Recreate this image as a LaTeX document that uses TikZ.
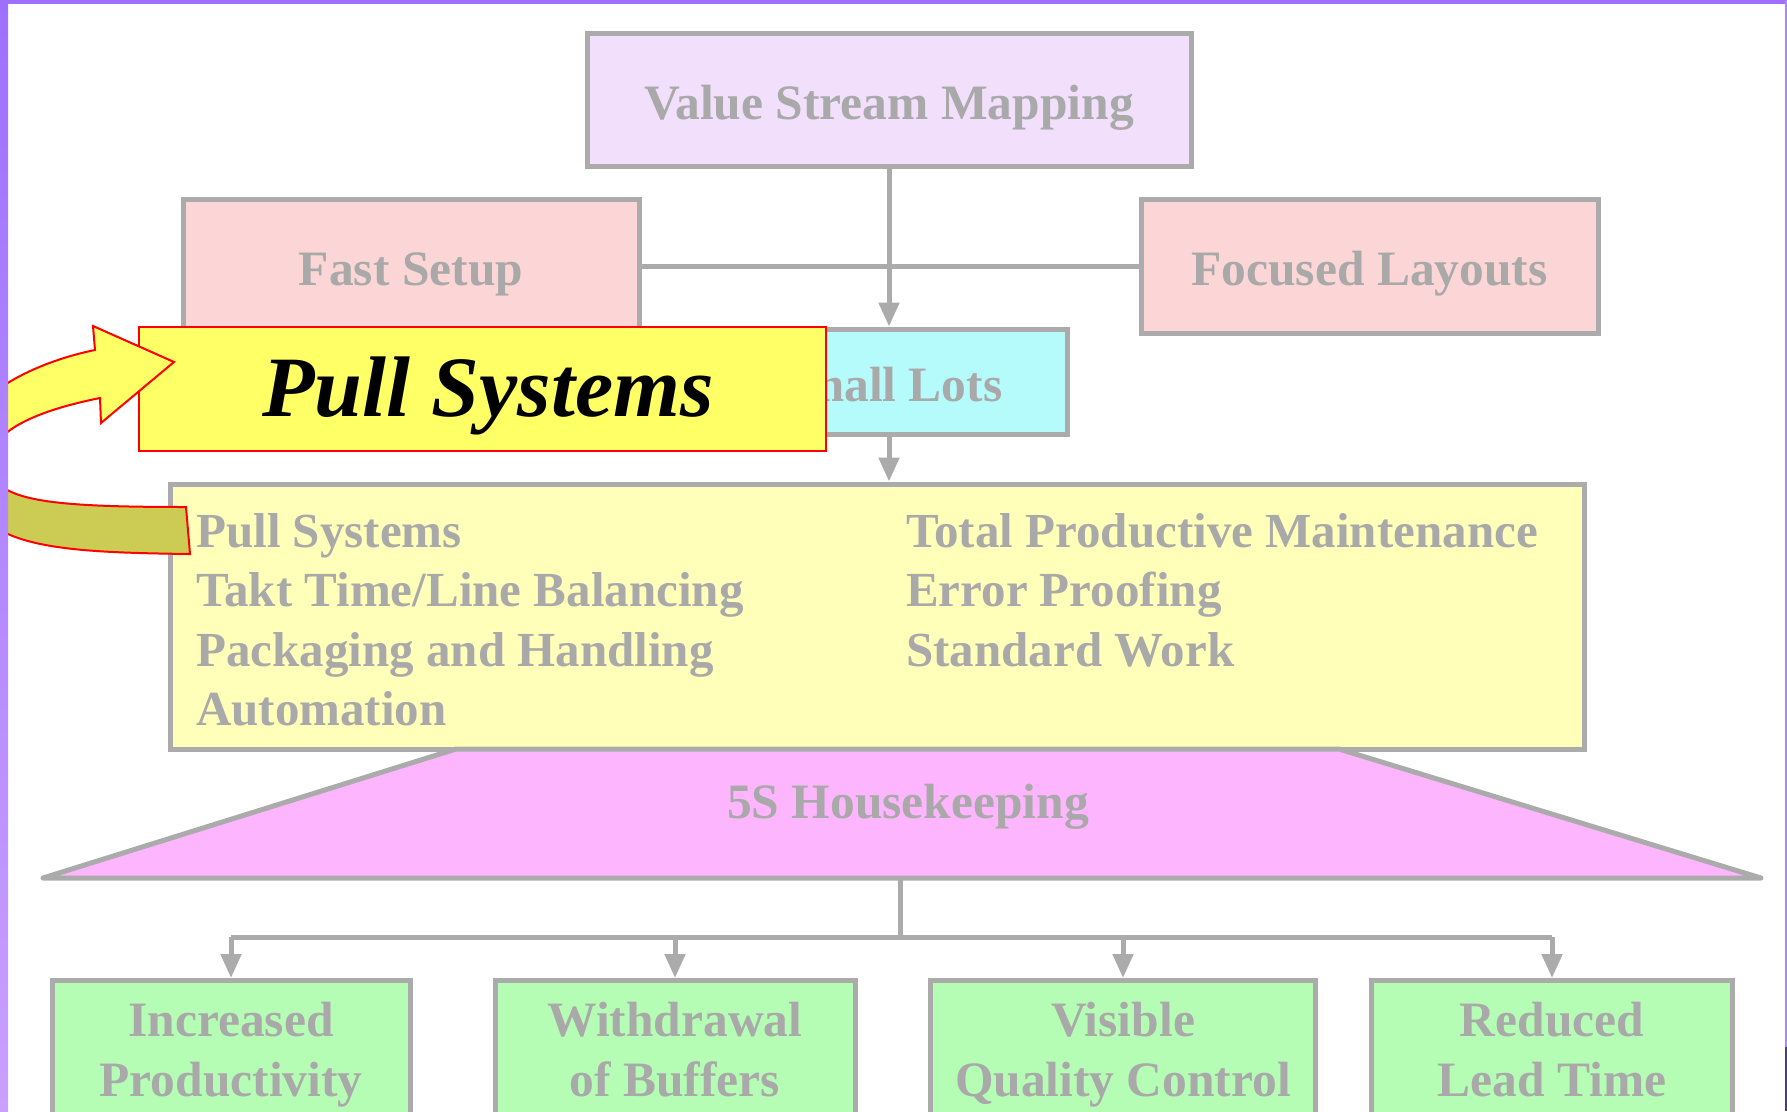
\documentclass[tikz,border=0pt]{standalone}
\usepackage{fontspec}
\setmainfont{Liberation Serif}
\usetikzlibrary{arrows.meta}
\definecolor{linegrey}{HTML}{ABABAB}
\definecolor{txtgrey}{HTML}{A9A9A9}
\definecolor{vsmfill}{HTML}{F1DFFB}
\definecolor{pinkfill}{HTML}{FCD6D6}
\definecolor{cyanfill}{HTML}{B5FBFB}
\definecolor{bigfill}{HTML}{FFFFB9}
\definecolor{trapfill}{HTML}{FDB5FD}
\definecolor{greenfill}{HTML}{B5FDB5}
\definecolor{callyellow}{HTML}{FFFF66}
\definecolor{olive}{HTML}{CCCC55}
\definecolor{bordtop}{HTML}{9F70FF}
\definecolor{bordbot}{HTML}{C9A0FF}
\definecolor{darkslate}{HTML}{4A4070}
\begin{document}
\begin{tikzpicture}[x=1pt,y=-1pt,
  boxstyle/.style={draw=linegrey, line width=5pt, inner sep=0pt, text=txtgrey,
    font=\bfseries\fontsize{49.5}{59.5}\selectfont, align=center},
  onebox/.style={boxstyle, text height=39pt, text depth=0pt},
  greenbox/.style={boxstyle, fill=greenfill, minimum height=152pt, anchor=north,
    text height=99.5pt, text depth=20pt},
  conn/.style={draw=linegrey, line width=5pt},
  connarrow/.style={conn, -{Triangle[width=20pt,length=24pt]}},
  coltext/.style={inner sep=0pt, text=txtgrey, font=\bfseries\fontsize{49}{59.5}\selectfont, align=left, anchor=north west}]
\useasboundingbox (0,0) rectangle (1787,1111);
\begin{scope}
\clip (0,0) rectangle (1787,1111);
\fill[white] (0,0) rectangle (1787,1111);

% boxes
\node[onebox, fill=vsmfill, minimum width=604pt, minimum height=133pt] (vsm) at (889,99.5) {Value Stream Mapping};
\node[onebox, fill=pinkfill, minimum width=456pt, minimum height=134pt] (fast) at (411,266) {Fast Setup};
\node[onebox, fill=pinkfill, minimum width=457pt, minimum height=134pt] (focus) at (1369.5,266) {Focused Layouts};
\node[onebox, fill=cyanfill, minimum width=356pt, minimum height=105pt] (small) at (889,381.5) {Small Lots};
\node[boxstyle, fill=bigfill, minimum width=1414pt, minimum height=265pt] (big) at (877,616.5) {};
\node[coltext] (left) at (196,513) {Pull Systems\\Takt Time/Line Balancing\\Packaging and Handling\\Automation};
\node[coltext] (right) at (906,513) {Total Productive Maintenance\\Error Proofing\\Standard Work};

% trapezoid
\draw[conn, fill=trapfill, line join=round] (456,749) -- (1339,749) -- (1761,878) -- (43,878) -- cycle;
\node[inner sep=0pt, text=txtgrey, font=\bfseries\fontsize{49.5}{59.5}\selectfont] (fives) at (908,807) {5S Housekeeping};
\coordinate (trapbot) at (900,878);
\coordinate (hub) at (900,937);

% green boxes
\node[greenbox, minimum width=358pt] (g1) at (231,978) {Increased\\Productivity};
\node[greenbox, minimum width=360pt] (g2) at (675,978) {Withdrawal\\of Buffers};
\node[greenbox, minimum width=385pt] (g3) at (1123,978) {Visible\\Quality Control};
\node[greenbox, minimum width=361pt] (g4) at (1552,978) {Reduced\\Lead Time};

% connectors
\draw[conn] (fast.east) -- (focus.west);
\draw[connarrow] (vsm.south) -- (small.north);
\draw[connarrow] (small.south) -- (small.south |- big.north);
\draw[conn] (trapbot) -- (hub);
\draw[conn] (g1.north |- hub) -- (g4.north |- hub);
\draw[connarrow] (g1.north |- hub) -- (g1.north);
\draw[connarrow] (g2.north |- hub) -- (g2.north);
\draw[connarrow] (g3.north |- hub) -- (g3.north);
\draw[connarrow] (g4.north |- hub) -- (g4.north);

% callout
\node[fill=callyellow, draw=red, line width=2pt, minimum width=687pt, minimum height=124pt,
  text height=62pt, text depth=8pt, inner sep=0pt,
  font=\bfseries\itshape\fontsize{86}{86}\selectfont] (pull) at (482.5,389) {\hspace*{11pt}Pull Systems};

% curved U arrow
\filldraw[fill=olive, draw=red, line width=2pt, line join=miter]
  (-40,450) .. controls (-40,545) and (30,552) .. (190,554) -- (186,507)
  .. controls (40,507) and (-10,500) .. (-10,462) -- cycle;
\filldraw[fill=callyellow, draw=red, line width=2pt, line join=miter]
  (-40,450) .. controls (-40,395) and (40,361) .. (95,350) -- (93,326) -- (174,362)
  -- (101,423) -- (100,398) .. controls (40,410) and (-10,430) .. (-10,462) -- cycle;

% border
\shade[top color=bordtop, bottom color=bordbot] (0,0) rectangle (8,1111);
\fill[bordtop] (0,0) rectangle (1787,4);
\fill[bordtop!85] (1784.5,0) rectangle (1787,1111);
\fill[darkslate] (1784.5,1047) rectangle (1787,1111);
\end{scope}
\end{tikzpicture}
\end{document}
